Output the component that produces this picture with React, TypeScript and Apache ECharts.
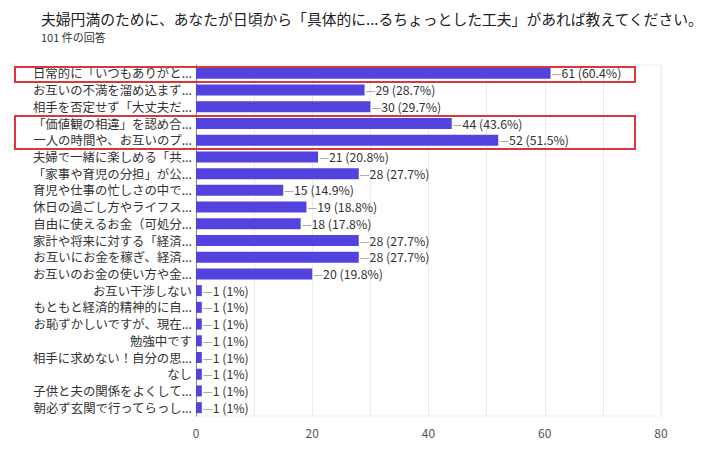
import React, { useEffect, useRef } from "react";
import * as echarts from "echarts";

const titleText = "夫婦円満のために、あなたが日頃から「具体的に...るちょっとした工夫」があれば教えてください。";
const subText = "101 件の回答";

const categories = [
  "日常的に「いつもありがと...",
  "お互いの不満を溜め込まず...",
  "相手を否定せず「大丈夫だ...",
  "「価値観の相違」を認め合...",
  "一人の時間や、お互いのプ...",
  "夫婦で一緒に楽しめる「共...",
  "「家事や育児の分担」が公...",
  "育児や仕事の忙しさの中で...",
  "休日の過ごし方やライフス...",
  "自由に使えるお金（可処分...",
  "家計や将来に対する「経済...",
  "お互いにお金を稼ぎ、経済...",
  "お互いのお金の使い方や金...",
  "お互い干渉しない",
  "もともと経済的精神的に自...",
  "お恥ずかしいですが、現在...",
  "勉強中です",
  "相手に求めない！自分の思...",
  "なし",
  "子供と夫の関係をよくして...",
  "朝必ず玄関で行ってらっし...",
];

const counts = [61, 29, 30, 44, 52, 21, 28, 15, 19, 18, 28, 28, 20, 1, 1, 1, 1, 1, 1, 1, 1];

const percents = [
  "60.4%", "28.7%", "29.7%", "43.6%", "51.5%", "20.8%", "27.7%", "14.9%", "18.8%",
  "17.8%", "27.7%", "27.7%", "19.8%", "1%", "1%", "1%", "1%", "1%", "1%", "1%", "1%",
];

const xTicks = [0, 20, 40, 60, 80];

const FONT = "'Noto Sans CJK JP', 'Noto Sans', sans-serif";

export default function App() {
  const ref = useRef<HTMLDivElement>(null);
  useEffect(() => {
    if (!ref.current) return;
    const chart = echarts.init(ref.current, undefined, { renderer: "svg" });
    chart.setOption({
      animation: false,
      backgroundColor: "#ffffff",
      textStyle: { fontFamily: FONT },
      title: {
        text: titleText,
        subtext: subText,
        left: 36,
        top: 4,
        itemGap: 3,
        textStyle: { fontFamily: FONT, fontSize: 14.8, fontWeight: "normal", color: "#202124", lineHeight: 18 },
        subtextStyle: { fontFamily: FONT, fontSize: 11, color: "#333333", lineHeight: 13 },
      },
      grid: {
        left: 196,
        right: 53,
        top: 65,
        bottom: 34,
        show: true,
        borderColor: "#eeeeee",
        borderWidth: 1,
      },
      xAxis: {
        type: "value",
        min: 0,
        max: 80,
        interval: 10,
        axisLine: { show: false },
        axisTick: { show: false },
        splitLine: { show: true, lineStyle: { color: "#ebebeb", width: 1 } },
        axisLabel: {
          color: "#555555",
          fontSize: 12,
          fontFamily: FONT,
          margin: 10,
          formatter: (v: number) => (xTicks.includes(v) ? String(v) : ""),
        },
      },
      yAxis: {
        type: "category",
        data: categories,
        inverse: true,
        axisLine: { show: true, lineStyle: { color: "#8a8a8a", width: 1 } },
        axisTick: { show: false },
        axisLabel: { color: "#333333", fontSize: 12.4, lineHeight: 14, fontFamily: FONT, margin: 4 },
      },
      series: [
        {
          type: "bar",
          data: counts,
          barWidth: 11,
          itemStyle: { color: "#5343de" },
          label: {
            show: true,
            position: "right",
            distance: 1,
            lineHeight: 14,
            formatter: (p: any) => `{d|—}{v|${p.value} (${percents[p.dataIndex]})}`,
            rich: {
              d: { color: "#9a9a9a", fontSize: 11, fontFamily: FONT, lineHeight: 14 },
              v: { color: "#333333", fontSize: 12.3, fontFamily: FONT, lineHeight: 14 },
            },
          },
        },
      ],
      graphic: [
        {
          type: "rect",
          shape: { x: 15, y: 67, width: 620, height: 15 },
          style: { fill: "none", stroke: "#d9363e", lineWidth: 2 },
          z: 100,
        },
        {
          type: "rect",
          shape: { x: 15, y: 116, width: 620, height: 33 },
          style: { fill: "none", stroke: "#d9363e", lineWidth: 2 },
          z: 100,
        },
      ],
    });
    return () => chart.dispose();
  }, []);
  return <div ref={ref} style={{ width: 714, height: 450, position: "absolute", left: 0, top: 0 }} />;
}
